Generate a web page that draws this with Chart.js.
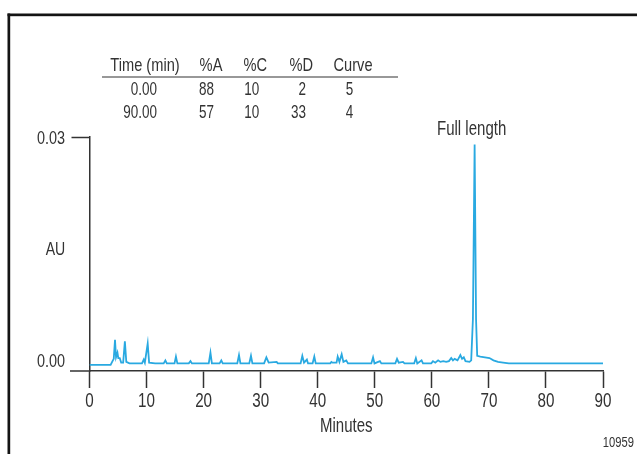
<!DOCTYPE html>
<html>
<head>
<meta charset="utf-8">
<script src="https://cdn.jsdelivr.net/npm/chart.js@4.4.1/dist/chart.umd.min.js"></script>
<style>
  html, body { margin: 0; padding: 0; background: #fff; }
  #wrap { width: 637px; height: 454px; }
</style>
</head>
<body>
<div id="wrap"><canvas id="chromChart" width="637" height="454"></canvas></div>
<script>
/* ============================================================
   DATA
   ============================================================ */
const minutes = [
    0, 3.7, 3.9, 4.1, 4.25, 4.47, 4.65, 4.9, 5.05, 5.3, 5.55, 5.9, 6.2, 6.45, 7.0, 8.0,
    9.2, 9.5, 9.7, 10.2, 10.45, 11.5, 13.0, 13.3, 13.55, 14.9, 15.15, 15.4, 17.4, 17.7, 17.95,
    20.9, 21.2, 21.45, 22.8, 23.1, 23.35, 25.9, 26.2, 26.45, 28.0, 28.3, 28.55, 30.6, 31.0, 31.4,
    32.8, 33.0, 37.0, 37.3, 37.6, 38.1, 38.3, 39.1, 39.4, 39.65, 42.2, 42.4, 42.6, 43.3, 43.5,
    43.8, 44.2, 44.5, 45.0, 45.3, 49.4, 49.7, 49.95, 50.9, 51.15, 53.6, 53.9, 54.2, 54.95, 55.2,
    56.9, 57.2, 57.45, 58.2, 58.45, 59.9, 60.2, 60.6, 61.1, 61.5, 62.0, 62.5, 63.0, 63.4, 63.7,
    64.0, 64.5, 65.0, 65.3, 65.6, 65.9, 66.6, 66.9, 67.2, 67.5, 67.75, 67.95, 68.5, 69.3, 70.1,
    70.8, 71.6, 72.5, 73.5, 80, 90
];
const absorbance = [
    0.0000, 0.0000, 0.0003, 0.0006, 0.0008, 0.0033, 0.0010, 0.0016, 0.0009, 0.0009, 0.0003, 0.0003, 0.0031, 0.0004, 0.0002, 0.0002,
    0.0002, 0.0007, 0.0003, 0.0028, 0.0003, 0.0002, 0.0002, 0.0006, 0.0002, 0.0002, 0.0011, 0.0002, 0.0002, 0.0005, 0.0002,
    0.0002, 0.0016, 0.0002, 0.0002, 0.0006, 0.0002, 0.0002, 0.0013, 0.0002, 0.0002, 0.0012, 0.0002, 0.0002, 0.0010, 0.0003,
    0.0004, 0.0002, 0.0002, 0.0012, 0.0003, 0.0007, 0.0002, 0.0002, 0.0011, 0.0002, 0.0002, 0.0004, 0.0003, 0.0003, 0.0011,
    0.0004, 0.0014, 0.0004, 0.0006, 0.0002, 0.0002, 0.0010, 0.0002, 0.0005, 0.0002, 0.0002, 0.0008, 0.0003, 0.0004, 0.0002,
    0.0002, 0.0009, 0.0002, 0.0006, 0.0002, 0.0002, 0.0005, 0.0003, 0.0006, 0.0004, 0.0005, 0.0004, 0.0005, 0.0009, 0.0006,
    0.0008, 0.0006, 0.0013, 0.0008, 0.0010, 0.0005, 0.0004, 0.0006, 0.0060, 0.0290, 0.0060, 0.0012, 0.0011, 0.0010, 0.0009,
    0.0006, 0.0004, 0.0003, 0.0002, 0.0002, 0.0002
];

const xTicks = [0, 10, 20, 30, 40, 50, 60, 70, 80, 90];
const yTicks = [0, 0.03];

// gradient table shown above the trace
const tableHeader = ["Time (min)", "%A", "%C", "%D", "Curve"];
const tableRows = [
    ["0.00", "88", "10", "2", "5"],
    ["90.00", "57", "10", "33", "4"]
];

const peakLabel = "Full length";
const peakTime = 67.5;
const peakHeight = 0.0290;
const figureId = "10959";

const FONT = "'Liberation Sans', Arial, sans-serif";
const INK = "#333333";
const TRACE = "#29a9e1";

/* ============================================================
   TEXT HELPER - the original uses a condensed face, so squeeze
   ============================================================ */
function narrowText(ctx, text, x, y, size, sx, align) {
    ctx.save();
    ctx.font = size + "px " + FONT;
    ctx.textAlign = align || "center";
    ctx.textBaseline = "middle";
    ctx.translate(x, y);
    ctx.scale(sx, 1);
    ctx.fillText(text, 0, 0);
    ctx.restore();
}

/* ============================================================
   EXTRA DRAWING (frame, labels, table)
   ============================================================ */
const decorations = {
    id: "decorations",
    afterDraw(chart) {
        const ctx = chart.ctx;
        const area = chart.chartArea;
        const xs = chart.scales.x;
        const ys = chart.scales.y;
        ctx.save();

        // frame (top + left edges)
        ctx.fillStyle = "#141414";
        ctx.fillRect(7.5, 13.5, 640, 2.7);
        ctx.fillRect(7.5, 13.5, 2.7, 450);

        // x axis runs on past the y axis
        ctx.strokeStyle = INK;
        ctx.lineWidth = 1.5;
        ctx.beginPath();
        ctx.moveTo(70, area.bottom);
        ctx.lineTo(area.left, area.bottom);
        ctx.stroke();

        ctx.fillStyle = INK;

        // tick labels
        xs.ticks.forEach(t => {
            narrowText(ctx, String(t.value), xs.getPixelForValue(t.value), 401, 20, 0.76, "center");
        });
        ys.ticks.forEach(t => {
            const py = ys.getPixelForValue(t.value) + (t.value === 0 ? -3 : 1.5);
            narrowText(ctx, t.value.toFixed(2), 65, py, 19, 0.76, "right");
        });

        // axis titles
        narrowText(ctx, "AU", 55.5, (area.top + area.bottom) / 2 - 4, 19, 0.74, "center");
        narrowText(ctx, "Minutes", (area.left + area.right) / 2, 426.5, 19.5, 0.77, "center");

        // peak label
        narrowText(ctx, peakLabel, xs.getPixelForValue(peakTime) - 3,
            ys.getPixelForValue(peakHeight) - 15.5, 20, 0.75, "center");

        // figure id
        narrowText(ctx, figureId, 634, 443, 14, 0.8, "right");

        // gradient table
        const headX = [145, 211, 255.3, 301.3, 353];
        tableHeader.forEach((h, i) => narrowText(ctx, h, headX[i], 66, 19, 0.77, "center"));
        ctx.beginPath();
        ctx.lineWidth = 1.2;
        ctx.moveTo(102, 77);
        ctx.lineTo(398, 77);
        ctx.stroke();
        const cellRight = [157, 214, 259.3, 306, 353.3];
        tableRows.forEach((row, r) => {
            row.forEach((cell, i) => narrowText(ctx, cell, cellRight[i], 89.5 + r * 23.5, 19, 0.71, "right"));
        });

        ctx.restore();
    }
};

/* ============================================================
   CHART
   ============================================================ */
new Chart(document.getElementById("chromChart"), {
    type: "line",
    data: {
        datasets: [{
            data: minutes.map((m, i) => ({ x: m, y: absorbance[i] })),
            borderColor: TRACE,
            borderWidth: 1.8,
            pointRadius: 0,
            tension: 0,
            fill: false
        }]
    },
    options: {
        responsive: false,
        animation: false,
        layout: { padding: { top: 137, right: 34, left: 0, bottom: 0 } },
        plugins: {
            legend: { display: false },
            tooltip: { enabled: false }
        },
        scales: {
            x: {
                type: "linear",
                min: 0,
                max: 90,
                afterBuildTicks: s => { s.ticks = xTicks.map(v => ({ value: v })); },
                afterFit: s => { s.height = 454 - 371; },
                border: { color: INK, width: 1.5 },
                grid: { drawOnChartArea: false, tickLength: 17, tickWidth: 1.5, tickColor: INK },
                ticks: { display: false }
            },
            y: {
                min: -0.0008,
                max: 0.03,
                afterBuildTicks: s => { s.ticks = yTicks.map(v => ({ value: v })); },
                afterFit: s => { s.width = 89.5; },
                border: { color: INK, width: 1.5 },
                grid: {
                    drawOnChartArea: false,
                    tickLength: 18,
                    tickWidth: 1.5,
                    tickColor: c => (c.tick && c.tick.value === 0 ? "rgba(0,0,0,0)" : INK)
                },
                ticks: { display: false }
            }
        }
    },
    plugins: [decorations]
});
</script>
</body>
</html>
